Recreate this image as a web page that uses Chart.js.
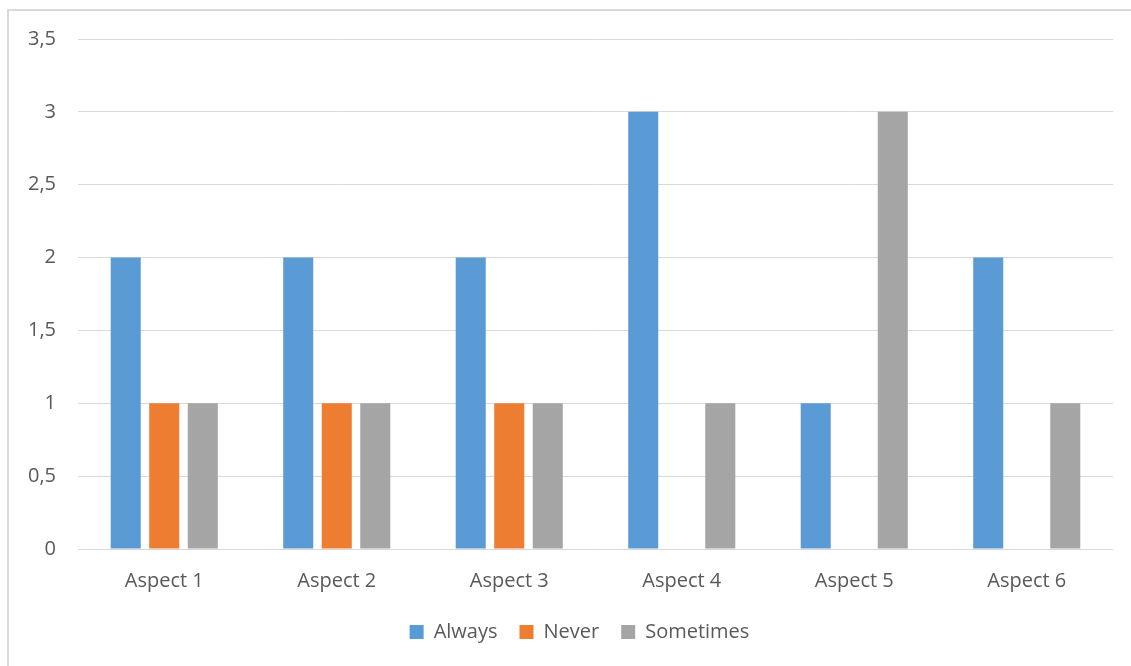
<!DOCTYPE html>
<html>
<head>
<meta charset="utf-8">
<script src="https://cdn.jsdelivr.net/npm/chart.js@4"></script>
<style>
  html, body { margin: 0; padding: 0; background: #fff; }
  #wrap { position: relative; width: 1131px; height: 666px; overflow: hidden; }
  #frame { position: absolute; left: 7px; top: 9px; width: 1200px; height: 700px;
           border-left: 2px solid #D9D9D9; border-top: 2px solid #D9D9D9; }
  #c { position: absolute; left: 0; top: 0; }
</style>
</head>
<body>
<div id="wrap">
  <div id="frame"></div>
  <canvas id="c" width="1131" height="666"></canvas>
</div>
<script>
const categories = ["Aspect 1", "Aspect 2", "Aspect 3", "Aspect 4", "Aspect 5", "Aspect 6"];
const always    = [2, 2, 2, 3, 1, 2];
const never     = [1, 1, 1, 0, 0, 0];
const sometimes = [1, 1, 1, 1, 3, 1];
const seriesNames = ["Always", "Never", "Sometimes"];
const seriesColors = ["#5B9BD5", "#ED7D31", "#A5A5A5"];

const FONT = "'Open Sans', 'Noto Sans', sans-serif";
const TEXT = "#595959";

// Nudge the legend row to the right of the canvas centre
const legendShift = {
  id: "legendShift",
  afterLayout(chart) {
    chart.legend.left += 46;
  }
};

new Chart(document.getElementById("c"), {
  type: "bar",
  data: {
    labels: categories,
    datasets: [always, never, sometimes].map((vals, i) => ({
      label: seriesNames[i],
      data: vals,
      backgroundColor: seriesColors[i],
      borderWidth: 0,
      categoryPercentage: 0.67,
      barPercentage: 0.78
    }))
  },
  options: {
    responsive: false,
    animation: false,
    layout: { padding: { top: 39, right: 18, left: 0, bottom: 14 } },
    scales: {
      x: {
        grid: { display: false, drawTicks: false },
        border: { display: false },
        ticks: { color: TEXT, font: { family: FONT, size: 20 }, padding: 20 },
        afterFit: s => { s.height = 51; }
      },
      y: {
        min: 0, max: 3.5,
        grid: { color: "#D9D9D9", lineWidth: 1, drawTicks: false },
        border: { display: false },
        ticks: {
          stepSize: 0.5,
          color: TEXT,
          font: { family: FONT, size: 20 },
          padding: 22,
          callback: v => String(v).replace(".", ",")
        },
        afterFit: s => { s.width = 78; }
      }
    },
    plugins: {
      legend: {
        position: "bottom",
        labels: {
          color: TEXT,
          font: { family: FONT, size: 20 },
          boxWidth: 14, boxHeight: 14,
          padding: 22
        }
      },
      tooltip: { enabled: false }
    }
  },
  plugins: [legendShift]
});
</script>
</body>
</html>
